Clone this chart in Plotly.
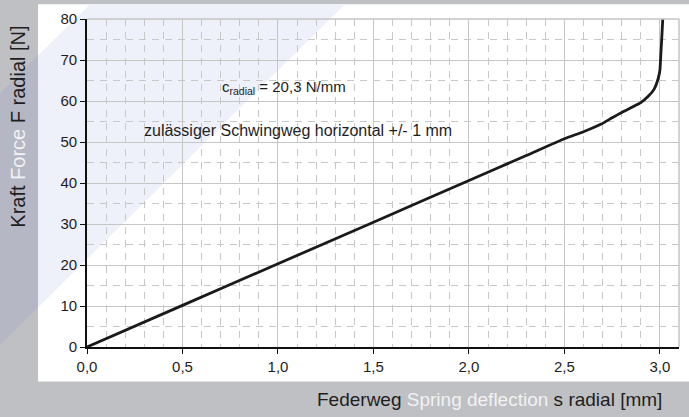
import plotly.graph_objects as go

# ---- data ----
deflection_mm = [0.0, 0.5, 1.0, 1.5, 2.0, 2.3, 2.5, 2.6, 2.69, 2.75, 2.8, 2.85,
                 2.9, 2.94, 2.97, 2.99, 3.0, 3.005, 3.01, 3.015]
force_N = [0.0, 10.15, 20.3, 30.45, 40.6, 46.7, 50.8, 52.5, 54.3, 55.9, 57.2, 58.4,
           59.6, 61.2, 62.9, 65.3, 67.5, 71.5, 75.5, 80.0]

x_ticks = [0.0, 0.5, 1.0, 1.5, 2.0, 2.5, 3.0]
x_tick_labels = ["0,0", "0,5", "1,0", "1,5", "2,0", "2,5", "3,0"]
y_ticks = [0, 10, 20, 30, 40, 50, 60, 70, 80]

W, H = 689, 417
ML, MR, MT, MB = 87, 10, 15, 70
PW, PH = W - ML - MR, H - MT - MB


def px(x):
    return (x - ML) / PW


def py(y):
    return (H - MB - y) / PH


def path(points):
    return "M " + " L ".join(f"{px(a):.5f},{py(b):.5f}" for a, b in points) + " Z"


fig = go.Figure()
fig.add_trace(go.Scatter(
    x=deflection_mm, y=force_N, mode="lines",
    line=dict(color="#1a1a1a", width=2.8, shape="spline", smoothing=0.5),
    showlegend=False, hoverinfo="skip",
))

shapes = [
    # white panel
    dict(type="path", xref="paper", yref="paper", layer="below",
         path=path([(38, 0), (689, 0), (689, 382), (38, 382)]),
         fillcolor="#ffffff", line=dict(width=0)),
    # pale blue diagonal band inside panel
    dict(type="path", xref="paper", yref="paper", layer="below",
         path=path([(90, 0), (345, 0), (38, 307), (38, 52)]),
         fillcolor="#eef0fa", line=dict(width=0)),
    # bluish band on the left strip
    dict(type="path", xref="paper", yref="paper", layer="below",
         path=path([(0, 90), (38, 52), (38, 307), (0, 345)]),
         fillcolor="#b5b7c4", line=dict(width=0)),
    # right and top frame
    dict(type="line", xref="paper", yref="paper", x0=1, x1=1, y0=0, y1=1,
         line=dict(color="#c4c4c4", width=1.5)),
    dict(type="line", xref="paper", yref="paper", x0=0, x1=1, y0=1, y1=1,
         line=dict(color="#c4c4c4", width=1.5)),
]

dark = "#1e1e1e"
light = "#f2f2f2"
annotations = [
    dict(xref="paper", yref="paper", x=px(220), y=py(84), xanchor="left", yanchor="middle",
         text="c<sub>radial</sub> = 20,3 N/mm", showarrow=False,
         font=dict(size=15, color=dark)),
    dict(xref="paper", yref="paper", x=px(142), y=py(128), xanchor="left", yanchor="middle",
         text="zulässiger Schwingweg horizontal +/- 1 mm", showarrow=False,
         font=dict(size=16, color=dark)),
    dict(xref="paper", yref="paper", x=px(664), y=py(400), xanchor="right", yanchor="middle",
         text=f"Federweg <span style='color:{light}'>Spring deflection</span> s radial [mm]",
         showarrow=False, font=dict(size=19, color=dark)),
    dict(xref="paper", yref="paper", x=px(18), y=py(124), xanchor="center", yanchor="middle",
         textangle=-90,
         text=f"Kraft <span style='color:{light}'>Force</span> F radial [N]",
         showarrow=False, font=dict(size=20, color=dark)),
]

fig.update_layout(
    width=W, height=H,
    margin=dict(l=ML, r=MR, t=MT, b=MB, pad=0),
    paper_bgcolor="#bfc0c3",
    plot_bgcolor="rgba(0,0,0,0)",
    font=dict(family="Liberation Sans, Arial, sans-serif", color=dark),
    shapes=shapes,
    annotations=annotations,
)

fig.update_xaxes(
    range=[0, 3.1], tickmode="array", tickvals=x_ticks, ticktext=x_tick_labels,
    showgrid=True, gridcolor="#c6c6c6", gridwidth=1.3,
    minor=dict(dtick=0.1, showgrid=True, gridcolor="#c8c8c8", griddash="7px,6px", gridwidth=1),
    showline=True, linecolor="#111111", linewidth=1.6,
    ticks="outside", ticklen=5, tickcolor="#111111", tickwidth=1.3,
    tickfont=dict(size=15, color=dark), zeroline=False, fixedrange=True,
)
fig.update_yaxes(
    range=[0, 80], tickmode="array", tickvals=y_ticks,
    showgrid=True, gridcolor="#c6c6c6", gridwidth=1.3,
    minor=dict(dtick=5, showgrid=True, gridcolor="#c8c8c8", griddash="7px,6px", gridwidth=1),
    showline=True, linecolor="#111111", linewidth=1.6,
    ticks="outside", ticklen=5, tickcolor="#111111", tickwidth=1.3,
    tickfont=dict(size=15, color=dark), zeroline=False, fixedrange=True,
)

fig.write_html("out.html", post_script="document.body.style.margin='0';",
               config={"displayModeBar": False})
